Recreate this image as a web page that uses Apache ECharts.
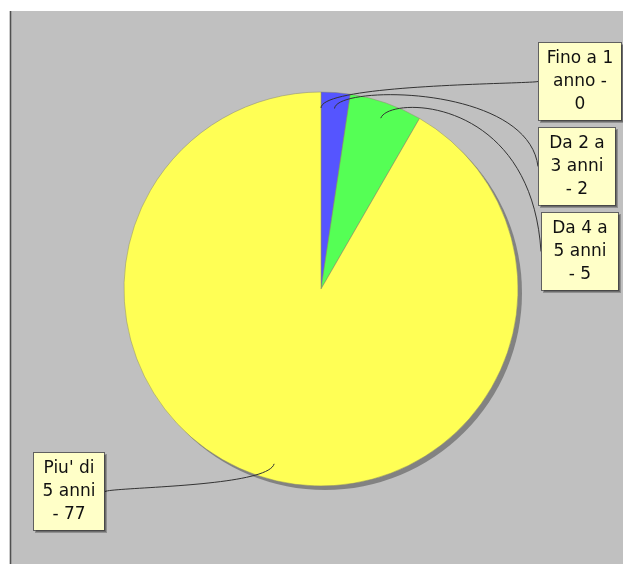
<!DOCTYPE html>
<html>
<head>
<meta charset="utf-8">
<script src="https://cdn.jsdelivr.net/npm/echarts@6/dist/echarts.min.js"></script>
<style>
  html, body { margin: 0; padding: 0; background: #ffffff; }
  #chart { width: 623px; height: 564px; }
</style>
</head>
<body>
<div id="chart"></div>
<script>
// ---- data ----
const categories = ['Fino a 1 anno', 'Da 2 a 3 anni', 'Da 4 a 5 anni', "Piu' di 5 anni"];
const values = [0, 2, 5, 77];
const labelTemplates = ['Fino a 1\nanno -\n{c}', 'Da 2 a\n3 anni\n- {c}', 'Da 4 a\n5 anni\n- {c}', "Piu' di\n5 anni\n- {c}"];

// ---- styles / layout ----
const colors = ['#ff5555', '#5555ff', '#55ff55', '#ffff55'];
const CX = 321, CY = 289, R = 197, LINK_R = 181, ELBOW_R = 205;
const labelBoxes = [
  { left: 538, top: 42, w: 68 },
  { left: 538, top: 127, w: 62 },
  { left: 541, top: 212, w: 62 },
  { left: 33, top: 452, w: 56 }
];

const total = values.reduce((a, b) => a + b, 0);

const chart = echarts.init(document.getElementById('chart'), null, { renderer: 'canvas' });

const mainData = categories.map((name, i) => ({
  name: name, value: values[i], itemStyle: { color: colors[i] }
}));
const labelData = categories.map((name, i) => ({
  name: name, value: values[i],
  label: { width: labelBoxes[i].w, formatter: labelTemplates[i] }
}));

function bezier(S, P1, P2, E, n) {
  const pts = [];
  for (let k = 0; k <= n; k++) {
    const t = k / n, u = 1 - t;
    const a = u * u * u, b = 3 * u * u * t, c = 3 * u * t * t, d = t * t * t;
    pts.push([a * S[0] + b * P1[0] + c * P2[0] + d * E[0],
              a * S[1] + b * P1[1] + c * P2[1] + d * E[1]]);
  }
  return pts;
}

const option = {
  animation: false,
  backgroundColor: '#ffffff',
  graphic: [
    { type: 'rect', z: -10, shape: { x: 10, y: 11, width: 620, height: 560 }, style: { fill: '#c0c0c0' }, silent: true },
    { type: 'line', z: -9, shape: { x1: 10.5, y1: 11, x2: 10.5, y2: 564 }, style: { stroke: '#505050', lineWidth: 1.6 }, silent: true }
  ],
  series: [
    {
      // drop shadow of the pie
      type: 'pie', silent: true, z: 1,
      center: [CX + 4, CY + 4], radius: R,
      label: { show: false }, labelLine: { show: false },
      data: [{ value: total, itemStyle: { color: '#828282' } }],
      emphasis: { disabled: true }
    },
    {
      type: 'pie', z: 2,
      center: [CX, CY], radius: R,
      startAngle: 90, clockwise: true,
      label: { show: false }, labelLine: { show: false },
      itemStyle: { borderColor: '#8a8a6a', borderWidth: 0.5 },
      emphasis: { disabled: true },
      data: mainData
    },
    {
      // label carrier: transparent pie slightly smaller, so link lines start inside the slices
      type: 'pie', z: 3, silent: true,
      center: [CX, CY], radius: LINK_R,
      startAngle: 90, clockwise: true,
      avoidLabelOverlap: false,
      itemStyle: { color: 'rgba(0,0,0,0)', borderWidth: 0 },
      emphasis: { disabled: true },
      label: {
        show: true, position: 'outside',
        fontFamily: 'DejaVu Sans', fontSize: 17, lineHeight: 23,
        color: '#111', align: 'center',
        backgroundColor: '#ffffc8', borderColor: '#606060', borderWidth: 1,
        padding: [4, 7],
        shadowColor: 'rgba(0,0,0,0.25)', shadowOffsetX: 2, shadowOffsetY: 2, shadowBlur: 0
      },
      labelLine: { show: true, length: 10, length2: 10, smooth: false, lineStyle: { color: '#333', width: 1 } },
      labelLayout: function (p) {
        const b = labelBoxes[p.dataIndex];
        const w = p.labelRect.width, h = p.labelRect.height;
        const S = (p.labelLinePoints && p.labelLinePoints[0]) || [CX, CY - LINK_R];
        const right = b.left > CX;
        const E = [right ? b.left : b.left + w, b.top + h / 2];
        const dx = S[0] - CX, dy = S[1] - CY, d = Math.hypot(dx, dy) || 1;
        const P1 = [CX + dx / d * ELBOW_R, CY + dy / d * ELBOW_R];
        const P2 = [E[0] + (right ? -10 : 10), P1[1]];
        return {
          x: b.left + w / 2, y: b.top + h / 2,
          align: 'center', verticalAlign: 'middle',
          labelLinePoints: bezier(S, P1, P2, E, 40)
        };
      },
      data: labelData
    }
  ]
};
chart.setOption(option);
</script>
</body>
</html>
